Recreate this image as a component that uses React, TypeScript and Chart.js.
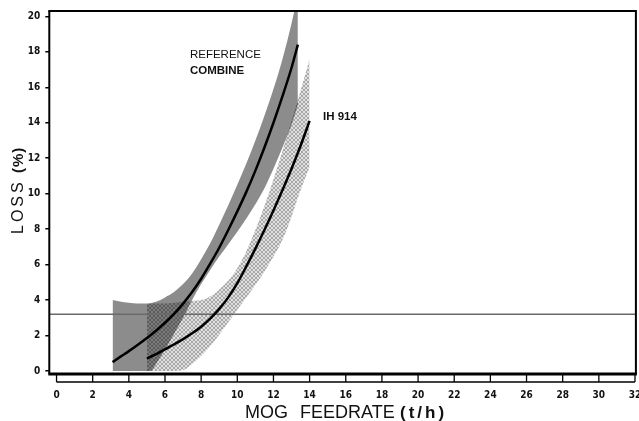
import React, { useEffect, useRef } from 'react';
import { Chart, registerables } from 'chart.js';

Chart.register(...registerables);

// ---- data ----
const refX = [3.1, 3.5, 4, 4.5, 5, 5.2, 5.5, 6, 6.5, 7, 7.5, 8, 8.5, 9, 9.5, 10, 10.5, 11, 11.5, 12, 12.5, 13, 13.35];
const refLower = [0, 0, 0, 0, 0, 0, 0.4, 1.2, 2.1, 3.0, 4.0, 4.9, 5.7, 6.45, 7.15, 7.85, 8.6, 9.4, 10.3, 11.4, 12.6, 13.9, 15.0];
const refUpper = [4.0, 3.92, 3.85, 3.8, 3.8, 3.82, 3.9, 4.15, 4.45, 4.9, 5.5, 6.3, 7.2, 8.25, 9.35, 10.5, 11.7, 13.0, 14.4, 15.9, 17.6, 19.6, 21.2];
const refCenter = [0.5, 0.78, 1.12, 1.48, 1.86, 2.02, 2.27, 2.72, 3.22, 3.8, 4.45, 5.2, 6.05, 6.95, 7.95, 9.0, 10.1, 11.3, 12.6, 14.0, 15.5, 17.1, 18.4];

const ihX = [5, 5.5, 6, 6.5, 7, 7.5, 8, 8.5, 9, 9.5, 10, 10.5, 11, 11.5, 12, 12.5, 13, 13.5, 14];
const ihLower = [0, 0, 0, 0, 0.05, 0.4, 0.85, 1.4, 2.05, 2.75, 3.45, 4.15, 4.85, 5.6, 6.45, 7.4, 8.7, 10.2, 11.5];
const ihUpper = [3.8, 3.8, 3.8, 3.85, 3.9, 3.95, 4.0, 4.2, 4.6, 5.1, 5.8, 6.75, 7.95, 9.3, 10.8, 12.4, 14.1, 15.8, 17.6];
const ihCenter = [0.7, 0.95, 1.22, 1.5, 1.8, 2.13, 2.5, 2.95, 3.5, 4.15, 4.95, 5.9, 6.9, 7.95, 9.05, 10.2, 11.4, 12.7, 14.1];

const thresholdLoss = 3.2;
const xTickValues = [0, 2, 4, 6, 8, 10, 12, 14, 16, 18, 20, 22, 24, 26, 28, 30, 32];
const yTickValues = [0, 2, 4, 6, 8, 10, 12, 14, 16, 18, 20];

const X_MIN = -0.4;
const X_MAX = 32.05;
const Y_MIN = -0.17;
const Y_MAX = 20.3;

const pts = (xs: number[], ys: number[]) => xs.map((x, i) => ({ x, y: ys[i] }));

function makePattern(): CanvasPattern | string {
  const c = document.createElement('canvas');
  c.width = 4;
  c.height = 4;
  const g = c.getContext('2d');
  if (!g) return 'rgba(0,0,0,0.23)';
  g.fillStyle = 'rgba(0,0,0,0.12)';
  g.fillRect(0, 0, 4, 4);
  g.fillStyle = 'rgba(0,0,0,0.25)';
  g.fillRect(1, 0, 2, 1);
  g.fillRect(0, 1, 1, 2);
  g.fillRect(3, 1, 1, 2);
  g.fillRect(1, 3, 2, 1);
  return g.createPattern(c, 'repeat') || 'rgba(0,0,0,0.23)';
}

const TICK_FONT = 'bold 10px "DejaVu Sans Condensed", "DejaVu Sans", sans-serif';

const framePlugin = {
  id: 'frame',
  afterDraw(chart: any) {
    const { ctx, chartArea } = chart;
    const xs = chart.scales.x;
    const ys = chart.scales.y;
    const { left, right, top, bottom } = chartArea;
    ctx.save();
    ctx.strokeStyle = '#000';
    ctx.lineCap = 'butt';
    ctx.lineWidth = 2;
    ctx.beginPath();
    ctx.moveTo(left - 1, top);
    ctx.lineTo(right, top);
    ctx.lineTo(right, bottom);
    ctx.stroke();
    ctx.beginPath();
    ctx.moveTo(left, top);
    ctx.lineTo(left, bottom);
    ctx.stroke();
    ctx.lineWidth = 3;
    ctx.beginPath();
    ctx.moveTo(left - 1, bottom);
    ctx.lineTo(right + 1, bottom);
    ctx.stroke();
    // ruler-style x axis
    const x0 = xs.getPixelForValue(xTickValues[0]);
    const x1 = xs.getPixelForValue(xTickValues[xTickValues.length - 1]);
    ctx.lineWidth = 1.5;
    ctx.beginPath();
    ctx.moveTo(x0, bottom + 8);
    ctx.lineTo(x1, bottom + 8);
    ctx.stroke();
    ctx.lineWidth = 1.3;
    ctx.fillStyle = '#111';
    ctx.font = TICK_FONT;
    ctx.textAlign = 'center';
    ctx.textBaseline = 'top';
    for (const v of xTickValues) {
      const px = xs.getPixelForValue(v);
      ctx.beginPath();
      ctx.moveTo(px, bottom);
      ctx.lineTo(px, bottom + 8);
      ctx.stroke();
      ctx.fillText(String(v), px, bottom + 16);
    }

    ctx.textAlign = 'left';
    ctx.textBaseline = 'alphabetic';
    ctx.font = '11.5px "Liberation Sans", Arial, sans-serif';
    ctx.fillText('REFERENCE', xs.getPixelForValue(7.38), ys.getPixelForValue(17.64));
    ctx.font = 'bold 11.5px "Liberation Sans", Arial, sans-serif';
    ctx.fillText('COMBINE', xs.getPixelForValue(7.38), ys.getPixelForValue(16.74));
    ctx.fillText('IH 914', xs.getPixelForValue(14.74), ys.getPixelForValue(14.16));

    ctx.font = '18px "Liberation Sans", Arial, sans-serif';
    ctx.fillText('MOG', 245, 418);
    ctx.fillText('FEEDRATE', 300, 418);
    (ctx as any).letterSpacing = '3px';
    ctx.font = 'bold 17px "Liberation Sans", Arial, sans-serif';
    ctx.fillText('(t/h)', 400, 418);

    ctx.translate(23, 234);
    ctx.rotate(-Math.PI / 2);
    (ctx as any).letterSpacing = '3px';
    ctx.font = '16px "Liberation Sans", Arial, sans-serif';
    ctx.fillText('LOSS', 0, 0);
    (ctx as any).letterSpacing = '1px';
    ctx.font = 'bold 15px "Liberation Sans", Arial, sans-serif';
    ctx.fillText('(%)', 61, 0);
    ctx.restore();
  },
};

export default function App() {
  const canvasRef = useRef<HTMLCanvasElement | null>(null);

  useEffect(() => {
    const canvas = canvasRef.current;
    if (!canvas) return;
    const pattern = makePattern();
    const tickFont = { family: '"DejaVu Sans Condensed", "DejaVu Sans", sans-serif', size: 10, weight: 'bold' as const };
    const chart = new Chart(canvas, {
      type: 'line',
      data: {
        datasets: [
          { label: 'ref lower', data: pts(refX, refLower), borderWidth: 0, pointRadius: 0, fill: false, cubicInterpolationMode: 'monotone', order: 10 },
          { label: 'ref upper', data: pts(refX, refUpper), borderWidth: 0, pointRadius: 0, fill: 0, backgroundColor: '#8c8c8c', cubicInterpolationMode: 'monotone', order: 9 },
          { label: 'IH lower', data: pts(ihX, ihLower), borderWidth: 0, pointRadius: 0, fill: false, cubicInterpolationMode: 'monotone', order: 8 },
          { label: 'IH upper', data: pts(ihX, ihUpper), borderWidth: 0, pointRadius: 0, fill: 2, backgroundColor: pattern as any, cubicInterpolationMode: 'monotone', order: 7 },
          { label: 'threshold', data: [{ x: X_MIN, y: thresholdLoss }, { x: X_MAX, y: thresholdLoss }], borderColor: '#6a6a6a', borderWidth: 1.5, pointRadius: 0, fill: false, order: 3 },
          { label: 'REFERENCE COMBINE', data: pts(refX, refCenter), borderColor: '#000', borderWidth: 2.5, pointRadius: 0, fill: false, cubicInterpolationMode: 'monotone', order: 2 },
          { label: 'IH 914', data: pts(ihX, ihCenter), borderColor: '#000', borderWidth: 2.5, pointRadius: 0, fill: false, cubicInterpolationMode: 'monotone', order: 1 },
        ],
      },
      options: {
        animation: false,
        responsive: true,
        maintainAspectRatio: false,
        layout: { autoPadding: false, padding: { left: 0, top: 9.66, right: 3.1, bottom: 47 } },
        plugins: {
          legend: { display: false },
          tooltip: { enabled: false },
        },
        scales: {
          x: {
            type: 'linear',
            display: false,
            min: X_MIN,
            max: X_MAX,
          },
          y: {
            type: 'linear',
            min: Y_MIN,
            max: Y_MAX,
            grid: { display: true, drawOnChartArea: false, drawTicks: true, tickLength: 4, color: '#000', lineWidth: 1.5 },
            border: { display: false },
            ticks: { font: tickFont, color: '#111', padding: 5, autoSkip: false },
            afterBuildTicks: (s: any) => { s.ticks = yTickValues.map((v) => ({ value: v })); },
            afterFit: (s: any) => { s.width = 49.3; },
          },
        },
      },
      plugins: [framePlugin],
    } as any);
    return () => chart.destroy();
  }, []);

  return (
    <div style={{ position: 'fixed', left: 0, top: 0, width: 639, height: 421, background: '#fff' }}>
      <canvas ref={canvasRef} />
    </div>
  );
}
